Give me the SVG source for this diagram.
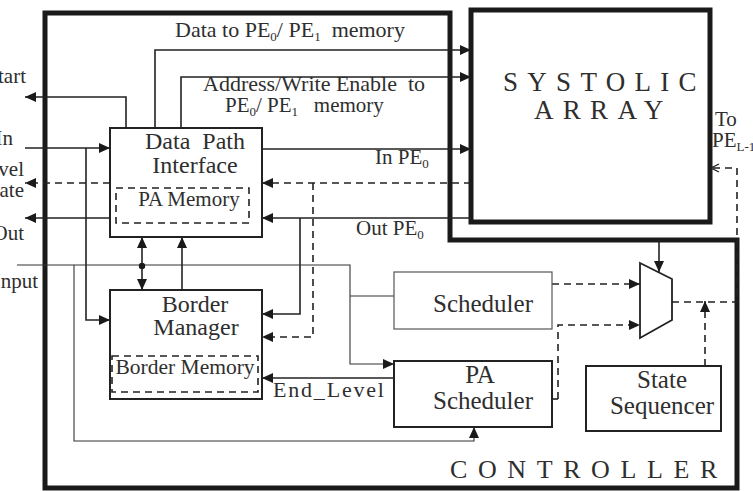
<svg xmlns="http://www.w3.org/2000/svg" width="753" height="491" viewBox="0 0 753 491">
<style>
text{font-family:"Liberation Serif","Times New Roman",serif;fill:#2e2e2e}
.ln{fill:none;stroke:#222;stroke-width:1.6}
.thin{fill:none;stroke:#333;stroke-width:1.1}
.ds{fill:none;stroke:#222;stroke-width:1.6;stroke-dasharray:7 5}
.box{fill:#fff;stroke:#222;stroke-width:2}
.lite{fill:#fff;stroke:#555;stroke-width:1.2}
.mem{fill:none;stroke:#222;stroke-width:1.6;stroke-dasharray:7 5}
.thick{fill:none;stroke:#1a1a1a;stroke-width:5}
.lbl{font-size:21px}
.top{font-size:22px}
.nm{font-size:24px;text-anchor:middle}
.big{font-size:25px;text-anchor:middle}
.end{text-anchor:end}
.sub{font-size:13px}
</style>
<defs>
<marker id="ah" markerUnits="userSpaceOnUse" markerWidth="11" markerHeight="10" refX="11" refY="5" orient="auto"><path d="M0,0 L11,5 L0,10 z" fill="#1a1a1a"/></marker>
<marker id="oa" markerUnits="userSpaceOnUse" markerWidth="10" markerHeight="10" refX="9" refY="5" orient="auto"><path d="M1,1 L9,5 L1,9" fill="none" stroke="#222" stroke-width="1.3"/></marker>
</defs>
<rect width="753" height="491" fill="#fff"/>

<!-- controller outline -->
<g id="controller">
<path class="thick" d="M45,13 H450 V240 H737 V488 H45 Z"/>
<text x="450" y="478" style="font-size:26px;letter-spacing:10.6px">CONTROLLER</text>
</g>

<!-- systolic array -->
<g id="systolic-array">
<rect class="thick" x="471" y="10" width="239" height="212"/>
<text x="503" y="91" style="font-size:27px;letter-spacing:9.3px">SYSTOLIC</text>
<text x="534" y="119" style="font-size:27px;letter-spacing:9.3px">ARRAY</text>
</g>

<!-- connectors -->
<g id="connectors">
<path class="ln" d="M155,128 V50 H471" marker-end="url(#ah)"/>
<path class="ln" d="M181,128 V77 H471" marker-end="url(#ah)"/>
<path class="ln" d="M126,128 V97 H25" marker-end="url(#ah)"/>
<path class="ln" d="M262,149 H471" marker-end="url(#ah)"/>
<path class="ds" d="M471,183 H262" marker-end="url(#ah)"/>
<path class="ln" d="M471,218 H262" marker-end="url(#ah)"/>
<path class="ln" d="M25,148 H110" marker-end="url(#ah)"/>
<path class="ln" d="M86,148 V320 H110" marker-end="url(#ah)"/>
<path class="ds" d="M110,183 H25" marker-end="url(#ah)"/>
<path class="ln" d="M110,218 H25" marker-end="url(#ah)"/>
<path class="ln" d="M300,218 V314 H262" marker-end="url(#ah)"/>
<path class="ds" d="M313,183 V337 H262" marker-end="url(#ah)"/>
<path class="thin" d="M17,265 H350 V364 H394" marker-end="url(#ah)"/>
<path class="thin" d="M350,296 H394"/>
<path class="thin" d="M74,265 V441 H474 V427" marker-end="url(#ah)"/>
<path class="ln" d="M142,266 V237" marker-end="url(#ah)"/>
<path class="ln" d="M142,266 V290" marker-end="url(#ah)"/>
<circle cx="142" cy="266" r="3.2" fill="#1a1a1a"/>
<path class="ln" d="M182,290 V237" marker-end="url(#ah)"/>
<path class="ln" d="M394,378 H262" marker-end="url(#ah)"/>
<path class="ds" d="M552,284 H640" marker-end="url(#ah)"/>
<path class="ln" d="M552,399 H558"/>
<path class="ds" d="M558,399 V325 H640" marker-end="url(#ah)"/>
<path class="ln" d="M659,240 V272" marker-end="url(#ah)"/>
<path class="ds" d="M672,302 H737 V168 H711" marker-end="url(#oa)"/>
<path class="ds" d="M705,366 V301" marker-end="url(#ah)"/>
</g>

<!-- signal labels -->
<g id="labels">
<text class="top" x="175" y="37" xml:space="preserve">Data to PE<tspan class="sub" dy="4">0</tspan><tspan dy="-4">/ PE</tspan><tspan class="sub" dy="4">1</tspan><tspan dy="-4">  memory</tspan></text>
<text class="top" x="203" y="91" xml:space="preserve">Address/Write Enable  to</text>
<text class="lbl" x="225" y="112" xml:space="preserve">PE<tspan class="sub" dy="4">0</tspan><tspan dy="-4">/ PE</tspan><tspan class="sub" dy="4">1</tspan><tspan dy="-4">   memory</tspan></text>
<text class="lbl" x="375" y="164">In PE<tspan class="sub" dy="4">0</tspan></text>
<text class="lbl" x="356" y="235">Out PE<tspan class="sub" dy="4">0</tspan></text>
<text x="273" y="397" style="font-size:22px;letter-spacing:1.8px">End_Level</text>
<text class="lbl" x="715" y="126">To</text>
<text class="lbl" x="712" y="147">PE<tspan class="sub" dy="4">L-1</tspan></text>
<text class="lbl end" x="26" y="83">Start</text>
<text class="lbl end" x="13" y="145">In</text>
<text class="lbl end" x="24" y="176">Level</text>
<text class="lbl end" x="24" y="197">Update</text>
<text class="lbl end" x="24" y="240">Out</text>
<text class="lbl end" x="38" y="288">Input</text>
</g>

<g id="data-path-interface">
<rect class="box" x="110" y="128" width="152" height="109"/>
<text class="nm" x="195" y="149" xml:space="preserve">Data  Path</text>
<text class="nm" x="195" y="173">Interface</text>
<rect class="mem" x="116" y="188" width="133" height="35"/>
<text x="189" y="206" style="font-size:21px;text-anchor:middle">PA Memory</text>
</g>

<g id="border-manager">
<rect class="box" x="110" y="290" width="152" height="109"/>
<text class="nm" x="195" y="312">Border</text>
<text class="nm" x="196" y="335">Manager</text>
<rect class="mem" x="112" y="356" width="146" height="36"/>
<text x="185" y="374" style="font-size:21.5px;text-anchor:middle">Border Memory</text>
</g>

<g id="scheduler">
<rect class="lite" x="394" y="272" width="158" height="57"/>
<text class="big" x="483" y="312">Scheduler</text>
</g>

<g id="pa-scheduler">
<rect class="box" x="394" y="361" width="158" height="66"/>
<text class="big" x="480" y="383">PA</text>
<text class="big" x="483" y="409">Scheduler</text>
</g>

<g id="state-sequencer">
<rect class="box" x="586" y="366" width="135" height="65"/>
<text class="big" x="662" y="388">State</text>
<text class="big" x="662" y="414">Sequencer</text>
</g>

<g id="mux">
<polygon points="640,263 672,279 672,320 640,338" fill="#fff" stroke="#222" stroke-width="1.8"/>
</g>
</svg>
